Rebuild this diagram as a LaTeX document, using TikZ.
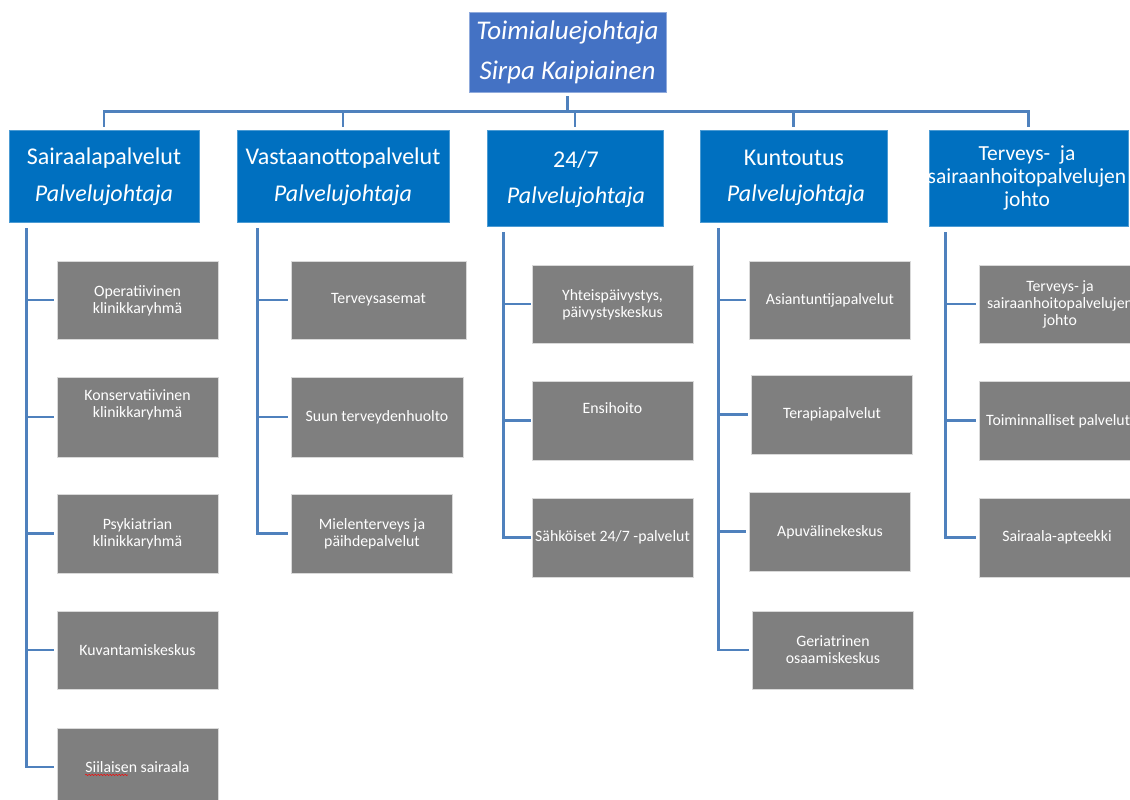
\documentclass[tikz,border=0pt]{standalone}
\usepackage{fontspec}
\setmainfont{Carlito}
\usetikzlibrary{decorations.pathmorphing}
\definecolor{topblue}{RGB}{68,114,196}
\definecolor{lvlblue}{RGB}{0,112,192}
\definecolor{conncol}{RGB}{79,129,189}
\definecolor{boxgray}{RGB}{127,127,127}
\tikzset{
  topbox/.style={rectangle, fill=topblue, draw=topblue!60!white, line width=0.8pt, inner sep=0pt},
  lvlbox/.style={rectangle, fill=lvlblue, draw=lvlblue!70!white, line width=0.6pt, inner sep=0pt},
  gbox/.style={rectangle, fill=boxgray, draw=white!85!black, line width=0.8pt, inner sep=0pt},
  conn/.style={draw=conncol, line width=2.6pt},
  toptxt/.style={text=white, font=\fontsize{27}{40}\selectfont\itshape, align=center, inner sep=0pt},
  lvltxt/.style={text=white, font=\fontsize{24}{23}\selectfont, align=center, inner sep=0pt},
  lvlit/.style={text=white, font=\fontsize{24}{23}\selectfont\itshape, align=center, inner sep=0pt},
  gtxt/.style={text=white, font=\fontsize{15.8}{17}\selectfont, align=center, inner sep=0pt},
}
\begin{document}
\begin{tikzpicture}[x=1pt,y=-1pt]
\useasboundingbox[fill=white] (0,0) rectangle (1130,800);
\clip (0,0) rectangle (1130,800);
% top
\node[topbox, minimum width=197pt, minimum height=80pt] (top) at (567.5,52) {};
\node[toptxt] (tt1) at (567.5,32) {Toimialuejohtaja};
\node[toptxt] (tt2) at (567.5,72) {Sirpa Kaipiainen};
% level 1
\node[lvlbox, minimum width=190pt, minimum height=92pt] (s1) at (104,176) {};
\node[lvlbox, minimum width=212pt, minimum height=92pt] (s2) at (343,176) {};
\node[lvlbox, minimum width=176pt, minimum height=96pt] (s3) at (575,178) {};
\node[lvlbox, minimum width=187pt, minimum height=92pt] (s4) at (793.5,176) {};
\node[lvlbox, minimum width=199pt, minimum height=96pt] (s5) at (1028.5,178) {};
\node[lvltxt] (l1a) at (104,158) {Sairaalapalvelut};
\node[lvlit] (l1b) at (104,195) {Palvelujohtaja};
\node[lvltxt] (l2a) at (343,158) {Vastaanottopalvelut};
\node[lvlit] (l2b) at (343,195) {Palvelujohtaja};
\node[lvltxt] (l3a) at (576,160) {24/7};
\node[lvlit] (l3b) at (576,197) {Palvelujohtaja};
\node[lvltxt] (l4a) at (794,158) {Kuntoutus};
\node[lvlit] (l4b) at (796,195) {Palvelujohtaja};
\node[lvltxt, font=\fontsize{21.5}{23}\selectfont] (l5a) at (1027,178) {Terveys-\ \ ja\\sairaanhoitopalvelujen\\johto};
% gray boxes col 1
\node[gbox, minimum width=161pt, minimum height=78pt] (a1) at (137.5,300) {};
\node[gbox, minimum width=161pt, minimum height=80pt] (a2) at (137.5,417) {};
\node[gbox, minimum width=161pt, minimum height=79pt] (a3) at (137.5,533.5) {};
\node[gbox, minimum width=161pt, minimum height=78pt] (a4) at (137.5,650) {};
\node[gbox, minimum width=161pt, minimum height=78pt] (a5) at (137.5,767) {};
\node[gtxt] (ta1) at (137.5,300.5) {Operatiivinen\\klinikkaryhmä};
\node[gtxt] (ta2) at (137.5,404.5) {Konservatiivinen\\klinikkaryhmä};
\node[gtxt] (ta3) at (137.5,533.5) {Psykiatrian\\klinikkaryhmä};
\node[gtxt] (ta4) at (137.5,650) {Kuvantamiskeskus};
\node[gtxt] (ta5) at (137.5,767) {Siilaisen sairaala};
\draw[red, line width=0.5pt, decorate, decoration={snake, amplitude=0.6pt, segment length=3pt}]
  ([yshift=-2.5pt]ta5.base west) -- ([xshift=43pt,yshift=-2.5pt]ta5.base west);
% col 2
\node[gbox, minimum width=175pt, minimum height=78pt] (b1) at (378.5,300) {};
\node[gbox, minimum width=172pt, minimum height=80pt] (b2) at (377,417) {};
\node[gbox, minimum width=161pt, minimum height=79pt] (b3) at (371.5,533.5) {};
\node[gtxt] (tb1) at (378.5,300) {Terveysasemat};
\node[gtxt] (tb2) at (377,417) {Suun terveydenhuolto};
\node[gtxt] (tb3) at (372,533.5) {Mielenterveys ja\\päihdepalvelut};
% col 3
\node[gbox, minimum width=161pt, minimum height=78pt] (c1) at (612.5,304) {};
\node[gbox, minimum width=161pt, minimum height=79pt] (c2) at (612.5,420.5) {};
\node[gbox, minimum width=161pt, minimum height=79pt] (c3) at (612.5,537.5) {};
\node[gtxt] (tc1) at (612.5,304.5) {Yhteispäivystys,\\päivystyskeskus};
\node[gtxt] (tc2) at (612.5,408) {Ensihoito};
\node[gtxt] (tc3) at (612.5,537) {Sähköiset 24/7 -palvelut};
% col 4
\node[gbox, minimum width=161pt, minimum height=78pt] (d1) at (829.5,300) {};
\node[gbox, minimum width=161pt, minimum height=79pt] (d2) at (831.5,414.5) {};
\node[gbox, minimum width=161pt, minimum height=79pt] (d3) at (829.5,531.5) {};
\node[gbox, minimum width=161pt, minimum height=78pt] (d4) at (832.5,650) {};
\node[gtxt] (td1) at (830,300) {Asiantuntijapalvelut};
\node[gtxt] (td2) at (832,414) {Terapiapalvelut};
\node[gtxt] (td3) at (830,532) {Apuvälinekeskus};
\node[gtxt] (td4) at (833,649.5) {Geriatrinen\\osaamiskeskus};
% col 5
\node[gbox, minimum width=158pt, minimum height=78pt] (e1) at (1058,304) {};
\node[gbox, minimum width=158pt, minimum height=79pt] (e2) at (1058,420.5) {};
\node[gbox, minimum width=158pt, minimum height=79pt] (e3) at (1058,537.5) {};
\node[gtxt] (te1) at (1060,304) {Terveys-\ ja\\sairaanhoitopalvelujen\\johto};
\node[gtxt, anchor=west] (te2) at (986,421) {Toiminnalliset palvelut};
\node[gtxt] (te3) at (1057,537) {Sairaala-apteekki};
% connectors top
\foreach \s in {s1,s2,s3,s4,s5}{
  \draw[conn, shorten <=4pt, shorten >=3pt] (top.south) -- ++(0,19) -| (\s.north);
}
% spines
\foreach \b in {a1,a2,a3,a4,a5}{
  \draw[conn, shorten >=3pt] (s1.south west) ++(18,6) |- (\b.west);
}
\foreach \b in {b1,b2,b3}{
  \draw[conn, shorten >=3pt] (s2.south west) ++(21,6) |- (\b.west);
}
\foreach \b in {c1,c2,c3}{
  \draw[conn, shorten >=1pt] (s3.south west) ++(17,6) |- (\b.west);
}
\foreach \b in {d1,d2,d3,d4}{
  \draw[conn, shorten >=3pt] (s4.south west) ++(19,6) |- (\b.west);
}
\foreach \b in {e1,e2,e3}{
  \draw[conn, shorten >=3pt] (s5.south west) ++(17,6) |- (\b.west);
}
\end{tikzpicture}
\end{document}
